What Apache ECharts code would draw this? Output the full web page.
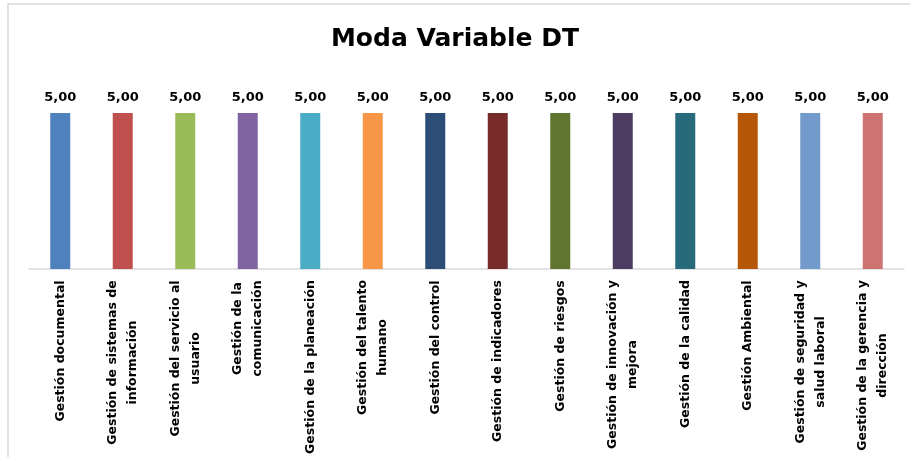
<!DOCTYPE html>
<html>
<head>
<meta charset="utf-8">
<script src="https://cdn.jsdelivr.net/npm/echarts@6/dist/echarts.min.js"></script>
<style>
  html, body { margin: 0; padding: 0; background: #fff; }
  #chart { width: 910px; height: 457px; }
</style>
</head>
<body>
<div id="chart"></div>
<script>
// categorias y valores
var categorias = [
    'Gestión documental',
    'Gestión de sistemas de\ninformación',
    'Gestión del servicio al\nusuario',
    'Gestión de la\ncomunicación',
    'Gestión de la planeación',
    'Gestión del talento\nhumano',
    'Gestión del control',
    'Gestión de indicadores',
    'Gestión de riesgos',
    'Gestión de innovación y\nmejora',
    'Gestión de la calidad',
    'Gestión Ambiental',
    'Gestión de seguridad y\nsalud laboral',
    'Gestión de la gerencia y\ndirección'
];
var valores = [5, 5, 5, 5, 5, 5, 5, 5, 5, 5, 5, 5, 5, 5];
var colores = [
    '#4F81BD', '#C0504D', '#9BBB59', '#8064A2', '#4BACC6', '#F79646', '#2C4D75',
    '#772C2A', '#5F7530', '#4D3B62', '#276A7C', '#B65708', '#729ACA', '#CD7371'
];

var fuenteEtiqueta = 'bold 12.5px "DejaVu Sans"';

// ancho de cada etiqueta, para centrar las lineas entre si
var ctx = document.createElement('canvas').getContext('2d');
ctx.font = fuenteEtiqueta;
var rich = {};
categorias.forEach(function (c, i) {
    var w = 0;
    c.split('\n').forEach(function (l) { w = Math.max(w, ctx.measureText(l).width); });
    rich['c' + i] = {
        width: Math.ceil(w),
        align: 'center',
        fontFamily: 'DejaVu Sans',
        fontWeight: 'bold',
        fontSize: 12.5,
        lineHeight: 20,
        color: '#000'
    };
});

var myChart = echarts.init(document.getElementById('chart'));

var option = {
    backgroundColor: '#fff',
    animation: false,
    title: {
        text: 'Moda Variable DT',
        left: 'center',
        top: 22,
        textStyle: {
            fontFamily: 'DejaVu Sans',
            fontWeight: 'bold',
            fontSize: 25,
            color: '#000'
        }
    },
    // borde del grafico
    graphic: [{
        type: 'polyline',
        shape: { points: [[8, 460], [8, 4], [912, 4]] },
        style: { stroke: '#D9D9D9', fill: null, lineWidth: 1.5 }
    }],
    grid: {
        left: 29,
        right: 6,
        top: 113,
        bottom: 188
    },
    xAxis: {
        type: 'category',
        data: categorias,
        axisLine: { lineStyle: { color: '#D9D9D9', width: 1.5 } },
        axisTick: { show: false },
        axisLabel: {
            interval: 0,
            rotate: 90,
            margin: 11,
            formatter: function (v, i) {
                return v.split('\n').map(function (l) { return '{c' + i + '|' + l + '}'; }).join('\n');
            },
            rich: rich
        }
    },
    yAxis: {
        type: 'value',
        min: 0,
        max: 5,
        show: false
    },
    series: [{
        type: 'bar',
        barWidth: 20,
        data: valores.map(function (v, i) {
            return { value: v, itemStyle: { color: colores[i] } };
        }),
        label: {
            show: true,
            position: 'top',
            distance: 9,
            formatter: function (p) { return p.value.toFixed(2).replace('.', ','); },
            fontFamily: 'DejaVu Sans',
            fontWeight: 'bold',
            fontSize: 13,
            color: '#000'
        }
    }]
};

myChart.setOption(option);
</script>
</body>
</html>
